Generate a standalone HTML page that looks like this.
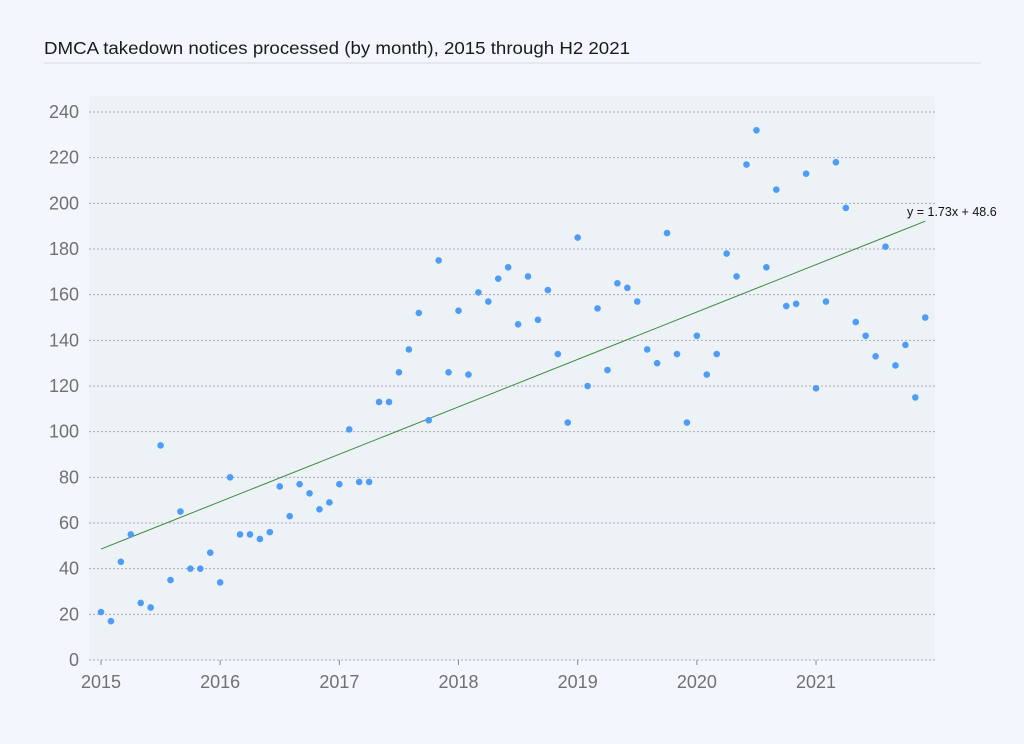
<!DOCTYPE html>
<html><head><meta charset="utf-8"><style>
html,body{margin:0;padding:0;background:#f3f7fd;}
body{width:1024px;height:739px;overflow:hidden;font-family:"Liberation Sans",sans-serif;}
</style></head><body>
<svg id="s" width="1024" height="739" xmlns="http://www.w3.org/2000/svg">
<text x="44" y="54" font-size="17.5" fill="#1a1a1a" textLength="586" lengthAdjust="spacingAndGlyphs">DMCA takedown notices processed (by month), 2015 through H2 2021</text>
<line x1="44" y1="63" x2="981" y2="63" stroke="#d6dbe2" stroke-width="1"/>
<rect x="89" y="96" width="846" height="564" fill="#edf2f7"/>
<g id="g"></g>
</svg>
<script>
var g=document.getElementById('g'),ns='http://www.w3.org/2000/svg';
function el(t,a,txt){var e=document.createElementNS(ns,t);for(var k in a)e.setAttribute(k,a[k]);if(txt!=null)e.textContent=txt;g.appendChild(e);return e;}
function Y(v){return 660-v*548/240;}
function X(i){return 101+i*119.17/12;}
for(var v=0;v<=240;v+=20){var y=Y(v);
el('line',{x1:89,x2:935,y1:y,y2:y,stroke:'#a8adb3','stroke-dasharray':'2,2','stroke-width':1});
el('text',{x:79,y:y+6,'font-size':18,fill:'#707070','text-anchor':'end'},v);}
for(var yr=0;yr<7;yr++){var x=X(yr*12);
el('line',{x1:x,x2:x,y1:660,y2:665,stroke:'#888'});
el('text',{x:x,y:688,'font-size':18,fill:'#707070','text-anchor':'middle'},2015+yr);}
var d=[21,17,43,55,25,23,94,35,65,40,40,47,34,80,55,55,53,56,76,63,77,73,66,69,77,101,78,78,113,113,126,136,152,105,175,126,153,125,161,157,167,172,147,168,149,162,134,104,185,120,154,127,165,163,157,136,130,187,134,104,142,125,134,178,168,217,232,172,206,155,156,213,119,157,218,198,148,142,133,181,129,138,115,150];
el('line',{x1:X(0),y1:Y(48.6),x2:X(83),y2:Y(48.6+1.73*83),stroke:'#3d8a3d','stroke-width':1});
d.forEach(function(v,i){el('circle',{cx:X(i),cy:Y(v),r:3.3,fill:'#4f9cf7'});});
el('text',{x:907,y:216,'font-size':12.5,fill:'#111'},'y = 1.73x + 48.6');
</script>
</body></html>
